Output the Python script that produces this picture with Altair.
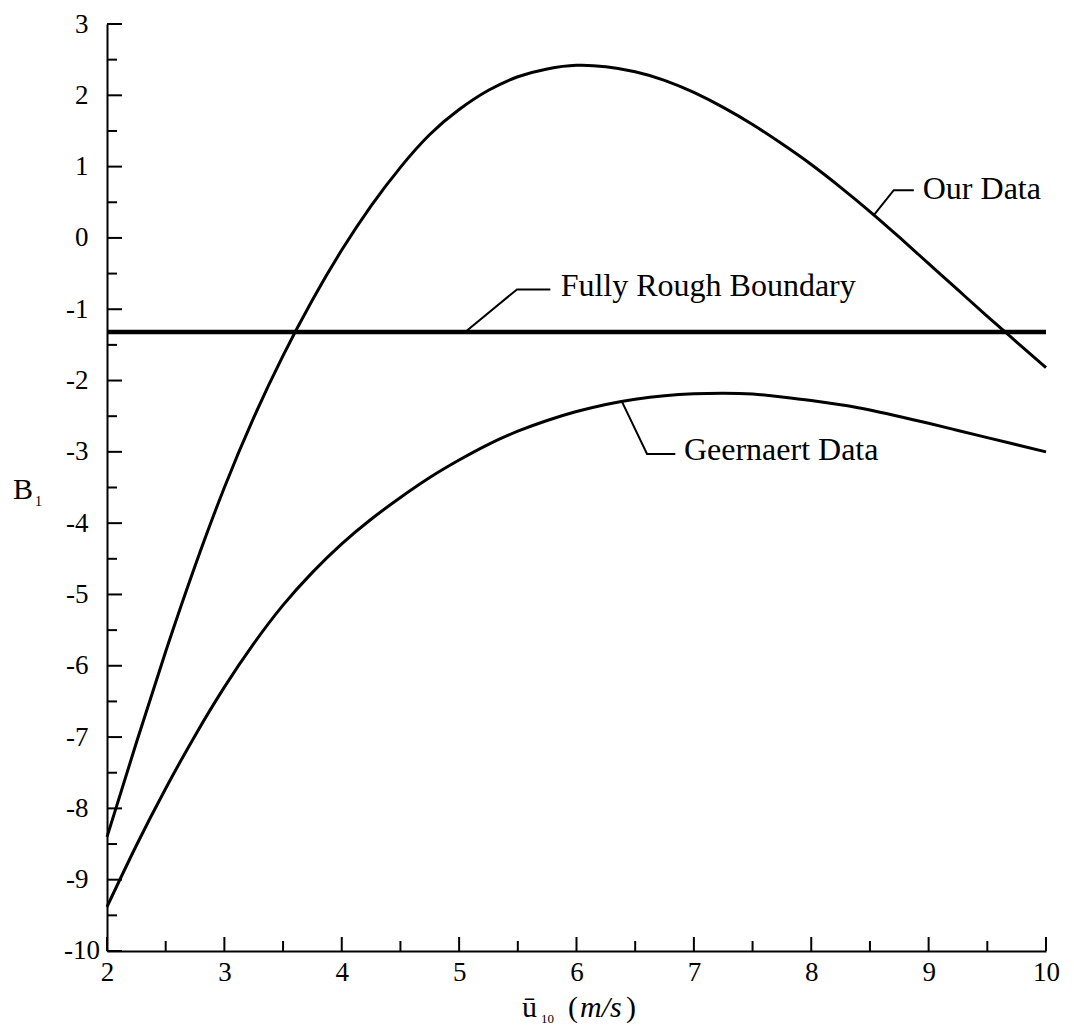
import altair as alt
import pandas as pd

# ---------------- data ----------------
U10 = [2.0, 2.25, 2.5, 2.75, 3.0, 3.25, 3.5, 3.75, 4.0, 4.25, 4.5, 4.75, 5.0,
       5.25, 5.5, 5.75, 6.0, 6.25, 6.5, 6.75, 7.0, 7.25, 7.5, 7.75, 8.0,
       8.25, 8.5, 8.75, 9.0, 9.25, 9.5, 9.75, 10.0]
OUR_B1 = [-8.4, -7.08, -5.80, -4.60, -3.50, -2.52, -1.65, -0.87, -0.17, 0.45,
          0.99, 1.45, 1.80, 2.07, 2.26, 2.37, 2.42, 2.40, 2.33, 2.21, 2.04,
          1.83, 1.59, 1.32, 1.03, 0.71, 0.37, 0.01, -0.36, -0.73, -1.10,
          -1.46, -1.82]
GEER_B1 = [-9.38, -8.52, -7.72, -6.98, -6.30, -5.69, -5.15, -4.69, -4.29,
           -3.945, -3.64, -3.36, -3.115, -2.895, -2.71, -2.56, -2.435, -2.335,
           -2.262, -2.213, -2.186, -2.178, -2.19, -2.23, -2.28, -2.34, -2.412,
           -2.505, -2.60, -2.70, -2.80, -2.90, -3.0]
ROUGH_X = [2.0, 10.0]
ROUGH_B1 = -1.32

# annotation labels and their leader lines (data coordinates)
LABELS = ["Our Data", "Fully Rough Boundary", "Geernaert Data"]
LABEL_X = [8.95, 5.865, 6.915]
LABEL_Y = [0.69, -0.68, -2.98]
LEADER_X = [[8.533, 8.703, 8.874], [5.052, 5.493, 5.777], [6.388, 6.601, 6.842]]
LEADER_Y = [[0.32, 0.669, 0.669], [-1.32, -0.722, -0.722], [-2.30, -3.03, -3.03]]

X_MAJOR = [2, 3, 4, 5, 6, 7, 8, 9, 10]
X_MINOR = [2.5, 3.5, 4.5, 5.5, 6.5, 7.5, 8.5, 9.5]
Y_MAJOR = [-10, -9, -8, -7, -6, -5, -4, -3, -2, -1, 0, 1, 2, 3]
Y_MINOR = [-9.5, -8.5, -7.5, -6.5, -5.5, -4.5, -3.5, -2.5, -1.5, -0.5, 0.5, 1.5, 2.5]

# ---------------- layout ----------------
W, H = 939, 927
FONT = "Liberation Serif"

rows = []
for name, ys in (("Our Data", OUR_B1), ("Geernaert Data", GEER_B1)):
    for x, y in zip(U10, ys):
        rows.append({"x": x, "y": y, "series": name})
curves = pd.DataFrame(rows)
rough = pd.DataFrame({"x": ROUGH_X, "y": [ROUGH_B1] * len(ROUGH_X)})
lead_rows = []
for g, (xs, ys) in enumerate(zip(LEADER_X, LEADER_Y)):
    for i, (x, y) in enumerate(zip(xs, ys)):
        lead_rows.append({"x": x, "y": y, "g": g, "i": i})
leaders = pd.DataFrame(lead_rows)
labels = pd.DataFrame({"x": LABEL_X, "y": LABEL_Y, "label": LABELS})

x_scale = alt.Scale(domain=[2, 10], nice=False, zero=False)
y_scale = alt.Scale(domain=[-10, 3], nice=False, zero=False)
x_axis = alt.Axis(values=X_MAJOR, ticks=False, grid=False, labelPadding=8,
                  labelBaseline="top", labelFlush=False, labelOverlap=False,
                  labelExpr="toString(datum.value)", title=None)
y_axis = alt.Axis(values=Y_MAJOR, ticks=False, grid=False, labelPadding=19,
                  labelFlush=False, labelOverlap=False,
                  labelExpr="datum.value == -10 ? '' : toString(datum.value)",
                  title=None)
X = alt.X("x:Q", scale=x_scale, axis=x_axis)
Y = alt.Y("y:Q", scale=y_scale, axis=y_axis)

lines = alt.Chart(curves).mark_line(color="black", strokeWidth=3,
                                    interpolate="natural").encode(
    x=X, y=Y, detail="series:N")
rough_line = alt.Chart(rough).mark_line(color="black", strokeWidth=4.5).encode(x=X, y=Y)
lead = alt.Chart(leaders).mark_line(color="black", strokeWidth=2).encode(
    x=X, y=Y, detail="g:N", order="i:Q")
ann = alt.Chart(labels).mark_text(align="left", baseline="middle", font=FONT,
                                  fontSize=32, color="black").encode(
    x=X, y=Y, text="label:N")

# inward ticks
def yticks(vals, length):
    return alt.Chart(pd.DataFrame({"y": vals})).mark_rule(color="black", strokeWidth=2).encode(
        y=Y, x=alt.value(0), x2=alt.value(length))

def xticks(vals, length):
    return alt.Chart(pd.DataFrame({"x": vals})).mark_rule(color="black", strokeWidth=2).encode(
        x=X, y=alt.value(H), y2=alt.value(H - length))

ticks = [yticks(Y_MAJOR, 15), yticks(Y_MINOR, 10), xticks(X_MAJOR, 14), xticks(X_MINOR, 10)]

# bottom-left "-10" label (shifted right as in the reference)
m10 = alt.Chart(pd.DataFrame({"y": [-10], "t": ["-10"]})).mark_text(
    align="right", baseline="middle", font=FONT, fontSize=27, color="black").encode(
    y=Y, x=alt.value(-7), text="t:N")

one = pd.DataFrame({"a": [0]})

def txt(s, x, y, size, style="normal"):
    return alt.Chart(one).mark_text(align="left", baseline="alphabetic", font=FONT,
                                    fontSize=size, fontStyle=style, color="black").encode(
        x=alt.value(x), y=alt.value(y), text=alt.value(s))

titles = [
    txt("ū", 415, 993, 30),
    txt("10", 434, 999, 13),
    txt("(", 461, 993, 30),
    txt("m/s", 473, 993, 30, "italic"),
    txt(")", 519, 993, 30),
    txt("B", -94, 475, 30),
    txt("1", -72, 482, 14),
]

chart = alt.layer(lines, rough_line, lead, ann, *ticks, m10, *titles).properties(
    width=W, height=H,
    padding={"left": 99, "top": 16, "right": 20, "bottom": 75},
    autosize=alt.AutoSizeParams(type="none"),
).configure_view(stroke=None).configure_axis(
    domainColor="black", domainWidth=2, labelColor="black", labelFont=FONT,
    labelFontSize=27,
)

chart.save("out.html", embed_options={"renderer": "svg", "actions": False})
